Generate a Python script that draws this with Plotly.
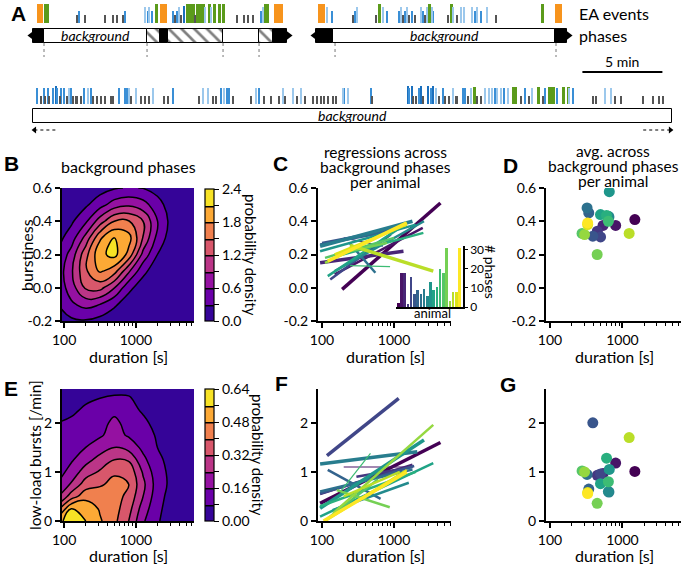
import plotly.graph_objects as go

W, H = 682, 564
FONT = "Lato"

# ---------------- A: EA events (time in minutes, 16 px per minute) ----------------
ROW1_T = [2.72, 2.88, 4.75, 4.88, 5.25, 6.56, 7.0, 7.31, 7.63, 7.75, 9.06, 9.19, 9.31, 9.44,
          10.75, 10.88, 11.0, 11.13, 11.25, 11.63, 11.81, 12.0, 12.13, 12.25, 12.44, 12.63, 12.81,
          13.0, 13.13, 13.31, 13.63, 13.88, 14.75, 15.19, 15.44, 15.81, 16.25, 16.38, 16.5, 16.63,
          19.88, 20.06, 20.22, 20.38, 20.69, 22.0, 22.13, 22.31, 23.44, 23.63, 23.88, 24.13, 24.88,
          25.0, 25.13, 25.25, 25.38, 25.5, 25.69, 25.88, 26.25, 26.38, 26.5, 26.63, 26.75, 26.94,
          27.06, 27.94, 28.13, 28.31, 28.56, 28.75, 28.94, 29.44, 29.63, 29.81, 30.06, 30.38, 30.94, 33.81]
ROW1_K = ("G G g b g g g g g b lb b lb b "
          "b g b lb g G G G g G G G lb "
          "G lb G G G g g g g b lb G G "
          "O O O lb b g b lb g G lb b b "
          "lb g b lb g b g lb b g lb G lb "
          "b g G lb g lb lb lb b lb b lb g G").split()
ROW1_BLOCK_T = [2.31, 9.69, 10.0, 11.44, 17.13, 34.69]
ROW1_BLOCK_D = [0.38, 0.19, 0.44, 0.13, 0.56, 0.44]
ROW1_BLOCK_K = ["O", "G", "O", "B", "O", "O"]

ROW2_T = [2.31, 2.5, 2.69, 2.81, 2.94, 3.06, 3.25, 3.44, 3.56, 3.69, 3.81, 3.94, 4.13, 4.25, 4.38,
          4.56, 4.69, 4.81, 5.0, 5.19, 5.44, 5.63, 5.81, 6.0, 6.25, 6.56, 6.88, 7.06, 7.38, 7.75,
          7.88, 8.0, 8.13, 8.44, 8.75, 9.0, 9.25, 9.5, 10.19, 10.44, 10.75, 12.38, 12.63, 12.94,
          13.25, 13.44, 13.75, 13.94, 14.13, 14.31, 14.56, 15.63, 15.94, 16.13, 16.44, 16.88, 17.38,
          17.63, 17.81, 18.25, 18.56, 18.75, 19.06, 19.5, 19.81, 20.0, 20.19, 20.44, 20.75, 20.94,
          21.38, 21.47, 21.69, 23.13, 23.22, 25.44, 25.56, 25.69, 25.81, 25.94, 26.13, 26.25, 26.38,
          26.69, 26.88, 27.0, 27.19, 27.38, 27.63, 27.81, 28.0, 28.25, 28.44, 28.56, 28.88, 29.06,
          29.19, 29.38, 29.56, 29.81, 30.0, 30.31, 30.5, 30.69, 30.88, 31.06, 31.25, 31.44, 31.69,
          32.5, 32.81, 33.0, 33.19, 33.56, 33.88, 34.06, 34.81, 35.13, 35.44, 35.56, 35.75, 37.0,
          37.19, 37.81, 38.13, 38.38, 38.75, 40.13, 40.81, 41.13, 41.38]
ROW2_K = ("b g b g b g b B b g b b g lb b "
          "g g g g b lb b g g g g g g b b "
          "b lb g lb g g g lb g g b g lb lb "
          "g g b lb b b g g lb b g g g "
          "lb g lb g lb g g g g g g g g "
          "lb b lb b g B b B g g b B g "
          "B b B lb g b g g lb g g b b "
          "g lb G g g lb lb lb b lb lb b lb "
          "g b g lb G g b b G G lb b g "
          "g lb lb g g g g g g").split()
ROW2_BLOCK_T = [32.0, 34.25]
ROW2_BLOCK_D = [0.31, 0.44]
ROW2_BLOCK_K = ["G", "G"]

# phases (minutes)
ROW1_PH_START = [2.06, 2.75, 9.19, 10.0, 10.5, 13.94, 16.19, 17.06, 19.75, 20.81, 34.69]
ROW1_PH_END = [2.75, 9.19, 10.0, 10.5, 13.94, 16.19, 17.06, 17.94, 20.81, 34.69, 35.44]
ROW1_PH_KIND = ["black", "background", "hatch", "black", "hatch", "plain", "hatch", "black",
                "black", "background", "black"]
ROW1_CUTS = [2.75, 9.19, 13.94, 16.19, 20.94, 34.75]
ROW2_PH_START = [2.06]
ROW2_PH_END = [42.0]
ROW2_PH_KIND = ["background"]

# ---------------- B / E: density maps ----------------
DUR_GRID = [79, 126, 200, 316, 501, 794, 1259, 1995, 3162, 5012, 7943]
BURST_GRID = [-0.2, -0.1, 0.0, 0.1, 0.2, 0.3, 0.4, 0.5, 0.6]
BURST_DENS = [
    [0.14, 0.24, 0.27, 0.19, 0.10, 0.04, 0.01, 0.00, 0.00, 0.00, 0.00],
    [0.27, 0.55, 0.70, 0.60, 0.35, 0.14, 0.04, 0.01, 0.00, 0.00, 0.00],
    [0.37, 0.75, 1.25, 1.30, 0.91, 0.38, 0.14, 0.04, 0.01, 0.00, 0.00],
    [0.38, 0.85, 1.45, 1.85, 1.62, 0.95, 0.38, 0.12, 0.03, 0.01, 0.00],
    [0.30, 0.72, 1.40, 2.02, 2.20, 1.70, 0.80, 0.30, 0.07, 0.01, 0.00],
    [0.18, 0.45, 1.00, 1.75, 2.10, 1.92, 1.18, 0.50, 0.14, 0.03, 0.00],
    [0.09, 0.25, 0.55, 1.05, 1.50, 1.52, 1.20, 0.62, 0.18, 0.04, 0.01],
    [0.04, 0.10, 0.25, 0.48, 0.74, 0.84, 0.72, 0.42, 0.14, 0.03, 0.00],
    [0.01, 0.03, 0.08, 0.17, 0.27, 0.32, 0.29, 0.18, 0.07, 0.02, 0.00],
]
RATE_GRID = [0.0, 0.25, 0.5, 0.75, 1.0, 1.25, 1.5, 1.75, 2.0, 2.25, 2.5, 2.75]
RATE_DENS = [
    [0.50, 0.64, 0.56, 0.49, 0.42, 0.32, 0.17, 0.09, 0.03, 0.00, 0.00],
    [0.36, 0.56, 0.54, 0.47, 0.43, 0.35, 0.20, 0.10, 0.04, 0.00, 0.00],
    [0.22, 0.36, 0.45, 0.44, 0.43, 0.38, 0.24, 0.11, 0.05, 0.00, 0.00],
    [0.16, 0.25, 0.36, 0.39, 0.42, 0.40, 0.26, 0.12, 0.06, 0.01, 0.00],
    [0.12, 0.19, 0.28, 0.33, 0.39, 0.38, 0.23, 0.11, 0.06, 0.01, 0.00],
    [0.10, 0.15, 0.21, 0.27, 0.32, 0.31, 0.18, 0.10, 0.05, 0.00, 0.00],
    [0.09, 0.12, 0.16, 0.20, 0.24, 0.21, 0.14, 0.08, 0.03, 0.00, 0.00],
    [0.085, 0.10, 0.13, 0.15, 0.19, 0.15, 0.12, 0.07, 0.02, 0.00, 0.00],
    [0.08, 0.09, 0.11, 0.13, 0.18, 0.13, 0.10, 0.05, 0.01, 0.00, 0.00],
    [0.06, 0.07, 0.09, 0.11, 0.14, 0.11, 0.07, 0.03, 0.00, 0.00, 0.00],
    [0.03, 0.05, 0.07, 0.08, 0.09, 0.09, 0.04, 0.01, 0.00, 0.00, 0.00],
    [0.01, 0.02, 0.03, 0.04, 0.05, 0.04, 0.02, 0.00, 0.00, 0.00, 0.00],
]

# ---------------- C / D / F / G: per animal ----------------
PHASE_COUNT = [2, 18, 18, 1.5, 16, 7, 9, 7, 9.5, 6, 13, 9, 10.5, 20, 18, 31, 3, 8, 8, 31]

C_X0 = [190, 150, 94, 200, 130, 100, 94, 245, 94, 150, 94, 120, 177, 245, 110, 150, 110, 245, 150, 120]
C_X1 = [4400, 2500, 1350, 700, 900, 1200, 900, 550, 1800, 2600, 2000, 1200, 2550, 880, 1000, 800, 1500, 3500, 1500, 1500]
C_Y0 = [-0.01, 0.08, 0.15, 0.30, 0.05, 0.27, 0.26, 0.265, 0.25, 0.10, 0.22, 0.07, 0.195, 0.133, 0.18, 0.20, 0.15, 0.255, 0.20, 0.16]
C_Y1 = [0.51, 0.36, 0.22, 0.25, 0.32, 0.36, 0.34, 0.09, 0.40, 0.40, 0.38, 0.36, 0.33, 0.127, 0.30, 0.27, 0.39, 0.10, 0.38, 0.39]

F_X0 = [94, 200, 94, 300, 117, 94, 120, 94, 94, 140, 94, 94, 94, 180, 120, 160, 143, 200, 110, 105]
F_X1 = [4400, 1800, 1800, 1800, 1160, 1900, 650, 1800, 2100, 1600, 2600, 3500, 2000, 470, 600, 870, 3500, 1200, 1500, 1500]
F_Y0 = [0.36, 1.10, 0.55, 0.90, 1.33, 0.56, 1.04, 0.60, 1.16, 0.22, 0.26, 0.09, 0.30, 0.60, 0.05, 0.63, 0.16, 0.50, 0.0, 0.0]
F_Y1 = [1.60, 1.10, 1.15, 1.10, 2.50, 1.12, 0.45, 1.05, 1.41, 0.78, 1.65, 1.18, 1.00, 1.38, 0.85, 0.28, 1.96, 1.00, 1.04, 1.00]

AVG_DUR = [1486, 807, 540, 450, 499, 390, 343, 325, 652, 640, 659, 498, 604, 640, 277, 448, 300, 1240, 331, 331]
AVG_BURST = [0.41, 0.375, 0.375, 0.34, 0.306, 0.31, 0.45, 0.48, 0.425, 0.43, 0.578, 0.44, 0.435, 0.40, 0.327, 0.20, 0.32, 0.327, 0.38, 0.39]
AVG_LOWLOAD = [1.01, 1.18, 0.97, 0.93, 0.96, 2.0, 0.65, 0.95, 0.59, 0.60, 1.05, 0.76, 1.28, 0.80, 1.02, 0.36, 1.0, 1.70, 0.58, 0.56]

# ---------------- styles ----------------
VIRIDIS20 = ['#440154', '#481467', '#482576', '#453781', '#404688', '#39558c', '#33638d', '#2d718e',
             '#287d8e', '#238a8d', '#1f968b', '#20a386', '#29af7f', '#3dbc74', '#56c667', '#75d054',
             '#95d840', '#bade28', '#dde318', '#fde725']
C_WIDTH = [3.5, 2.5, 3.5, 1.2, 2.5, 2.5, 2.5, 2.5, 3.5, 2.5, 2.5, 2.5, 2.5, 1.2, 2.5, 2.5, 2.5, 3.5, 2.5, 3.5]
F_WIDTH = [3.5, 1.2, 2.5, 2.5, 3.5, 2.5, 2.5, 2.5, 3.5, 2.5, 3.5, 2.5, 2.5, 1.2, 2.5, 2.5, 2.5, 2.5, 2.5, 3.5]
PLASMA8 = ['#350498', '#6a00a8', '#9511a1', '#bb3587', '#d8576b', '#f0804e', '#fca935', '#f7e225']
EV_COLOR = {"O": "#f7941d", "G": "#5b9b1b", "B": "#1a6fbd", "b": "#3a8fd6", "lb": "#9cc8ec", "g": "#555555"}
EV_WIDTH = {"O": 0.12, "G": 0.16, "B": 0.12, "b": 0.09, "lb": 0.09, "g": 0.08}
ROW1_H = {"O": 19, "G": 19, "B": 17, "b": 12, "lb": 16, "g": 8}
ROW2_H = {"O": 17, "G": 17, "B": 18, "b": 16, "lb": 16, "g": 8}


def xd(a, b):
    return [a / W, b / W]


def yd(top, bottom):
    return [1 - bottom / H, 1 - top / H]


def stepped(colors):
    n = len(colors)
    scale = []
    for i, c in enumerate(colors):
        scale += [[i / n, c], [(i + 1) / n, c]]
    return scale


fig = go.Figure()


def add_events(times, kinds, bt, bd, bk, base, heights):
    for k in EV_COLOR:
        xs, ws = [], []
        for t, kk in zip(times, kinds):
            if kk == k:
                xs.append(t + EV_WIDTH[k] / 2)
                ws.append(EV_WIDTH[k])
        for t, d, kk in zip(bt, bd, bk):
            if kk == k:
                xs.append(t + d / 2)
                ws.append(d)
        if xs:
            fig.add_trace(go.Bar(x=xs, y=[-heights[k]] * len(xs), base=[base] * len(xs), width=ws,
                                 marker=dict(color=EV_COLOR[k], line=dict(width=0)),
                                 xaxis="x", yaxis="y", hoverinfo="skip"))


def add_phases(starts, ends, kinds, yc):
    for s, e, k in zip(starts, ends, kinds):
        if k == "black":
            mk = dict(color="black", line=dict(color="black", width=1))
        elif k == "hatch":
            mk = dict(color="white", line=dict(color="black", width=1),
                      pattern=dict(shape="\\", fgcolor="black", bgcolor="white", size=9, solidity=0.3))
        else:
            mk = dict(color="white", line=dict(color="black", width=1))
        fig.add_trace(go.Bar(y=[yc], x=[e - s], base=[s], width=[14], orientation="h", marker=mk,
                             xaxis="x", yaxis="y", hoverinfo="skip"))


add_events(ROW1_T, ROW1_K, ROW1_BLOCK_T, ROW1_BLOCK_D, ROW1_BLOCK_K, 23, ROW1_H)
add_events(ROW2_T, ROW2_K, ROW2_BLOCK_T, ROW2_BLOCK_D, ROW2_BLOCK_K, 104, ROW2_H)
add_phases(ROW1_PH_START, ROW1_PH_END, ROW1_PH_KIND, 35.5)
add_phases(ROW2_PH_START, ROW2_PH_END, ROW2_PH_KIND, 115.5)

# pointed ends of the black transition caps in row 1
caps_x = [ROW1_PH_START[0], ROW1_PH_END[7], ROW1_PH_START[8], ROW1_PH_END[10]]
caps_sym = ["triangle-left", "triangle-right", "triangle-left", "triangle-right"]
fig.add_trace(go.Scatter(x=caps_x, y=[35.5] * 4, mode="markers",
                         marker=dict(symbol=caps_sym, size=11, color="black", line=dict(width=0)),
                         xaxis="x", yaxis="y", hoverinfo="skip"))

# dotted phase boundaries
cx, cy = [], []
for c in ROW1_CUTS:
    cx += [c, c, None]
    cy += [43, 57, None]
fig.add_trace(go.Scatter(x=cx, y=cy, mode="lines", line=dict(color="#777777", width=1, dash="dot"),
                         xaxis="x", yaxis="y", hoverinfo="skip"))

# row 2 end arrows (background continues)
s2, e2 = ROW2_PH_START[0], ROW2_PH_END[0]
for xa, xb, sym in [(s2 + 1.4, s2 + 0.1, "triangle-left"), (e2 - 1.8, e2 - 0.1, "triangle-right")]:
    fig.add_trace(go.Scatter(x=[xa, xb], y=[130, 130], mode="lines", line=dict(color="black", width=1.2, dash="dot"),
                             xaxis="x", yaxis="y", hoverinfo="skip"))
    fig.add_trace(go.Scatter(x=[xb], y=[130], mode="markers", marker=dict(symbol=sym, size=6, color="black"),
                             xaxis="x", yaxis="y", hoverinfo="skip"))

# 5 min scale bar
fig.add_trace(go.Scatter(x=[36.4, 41.4], y=[72, 72], mode="lines", line=dict(color="black", width=1.8),
                         xaxis="x", yaxis="y", hoverinfo="skip"))


# ---------------- density panels ----------------
def cbar(top, vals, labels):
    return dict(x=205 / W, xanchor="left", y=1 - top / H, yanchor="top", len=132, lenmode="pixels",
                thickness=9, thicknessmode="pixels", outlinewidth=1.2, outlinecolor="black",
                tickmode="array", tickvals=vals, ticktext=labels, ticks="outside", ticklen=5,
                tickwidth=1.2, tickcolor="black", tickfont=dict(size=14, color="black", family=FONT),
                xpad=0, ypad=0)


fig.add_trace(go.Contour(
    x=DUR_GRID, y=BURST_GRID, z=BURST_DENS, xaxis="x2", yaxis="y2",
    zmin=0, zmax=2.4, autocontour=False,
    contours=dict(start=0.3, end=2.1, size=0.3, coloring="fill"),
    line=dict(color="black", width=1.5, smoothing=1.3),
    colorscale=stepped(PLASMA8),
    colorbar=cbar(189, [0.3 * i for i in range(9)],
                  ["0.0", "", "0.6", "", "1.2", "", "1.8", "", "2.4"]),
    hoverinfo="skip"))

fig.add_trace(go.Contour(
    x=DUR_GRID, y=RATE_GRID, z=RATE_DENS, xaxis="x6", yaxis="y6",
    zmin=0, zmax=0.64, autocontour=False,
    contours=dict(start=0.08, end=0.56, size=0.08, coloring="fill"),
    line=dict(color="black", width=1.5, smoothing=1.3),
    colorscale=stepped(PLASMA8),
    colorbar=cbar(389, [0.08 * i for i in range(9)],
                  ["0.00", "", "0.16", "", "0.32", "", "0.48", "", "0.64"]),
    hoverinfo="skip"))

# ---------------- regression lines ----------------
for i in range(len(C_X0)):
    fig.add_trace(go.Scatter(x=[C_X0[i], C_X1[i]], y=[C_Y0[i], C_Y1[i]], mode="lines",
                             line=dict(color=VIRIDIS20[i], width=C_WIDTH[i]), xaxis="x3", yaxis="y3",
                             hoverinfo="skip"))
    fig.add_trace(go.Scatter(x=[F_X0[i], F_X1[i]], y=[F_Y0[i], F_Y1[i]], mode="lines",
                             line=dict(color=VIRIDIS20[i], width=F_WIDTH[i]), xaxis="x7", yaxis="y7",
                             hoverinfo="skip"))

fig.add_trace(go.Bar(x=list(range(len(PHASE_COUNT))), y=PHASE_COUNT, marker=dict(color=VIRIDIS20, line=dict(width=0)),
                     width=0.8, xaxis="x4", yaxis="y4", hoverinfo="skip"))

# ---------------- averages ----------------
fig.add_trace(go.Scatter(x=AVG_DUR, y=AVG_BURST, mode="markers", marker=dict(color=VIRIDIS20, size=11, line=dict(width=0)),
                         xaxis="x5", yaxis="y5", hoverinfo="skip"))
fig.add_trace(go.Scatter(x=AVG_DUR, y=AVG_LOWLOAD, mode="markers", marker=dict(color=VIRIDIS20, size=11, line=dict(width=0)),
                         xaxis="x8", yaxis="y8", hoverinfo="skip"))

# ---------------- axes ----------------
TICKFONT = dict(size=14, color="black", family=FONT)
LOG_MINOR = [200, 300, 400, 500, 600, 700, 800, 900, 2000, 3000, 4000, 5000, 6000]


def log_x(domain, rng, anchor):
    return dict(domain=domain, type="log", range=rng, anchor=anchor, showline=True, linecolor="black",
                linewidth=2, ticks="outside", ticklen=5, tickwidth=1.5, tickcolor="black",
                tickmode="array", tickvals=[100, 1000], ticktext=["100", "1000"],
                minor=dict(ticks="outside", ticklen=3, tickwidth=1, tickcolor="black", tickmode="array",
                           tickvals=LOG_MINOR, showgrid=False),
                showgrid=False, zeroline=False, tickfont=TICKFONT, automargin=False)


def lin_y(domain, rng, anchor, vals, labels):
    return dict(domain=domain, range=rng, anchor=anchor, showline=True, linecolor="black", linewidth=2,
                ticks="outside", ticklen=5, tickwidth=1.5, tickcolor="black", tickmode="array",
                tickvals=vals, ticktext=labels, showgrid=False, zeroline=False, tickfont=TICKFONT,
                automargin=False)


BURST_TICKS = [-0.2, 0.0, 0.2, 0.4, 0.6]
BURST_LABELS = ["-0.2", "0.0", "0.2", "0.4", "0.6"]
RATE_TICKS = [0, 1, 2]
RATE_LABELS = ["0", "1", "2"]

fig.update_layout(
    width=W, height=H, margin=dict(l=0, r=0, t=0, b=0, pad=0, autoexpand=False),
    paper_bgcolor="white", plot_bgcolor="rgba(0,0,0,0)",
    font=dict(family=FONT, color="black"),
    showlegend=False, barmode="overlay", bargap=0,
    xaxis=dict(domain=[0, 1], range=[0, W / 16], visible=False, anchor="y"),
    yaxis=dict(domain=yd(0, 140), range=[140, 0], visible=False, anchor="x"),
    xaxis2=log_x(xd(62, 194), [1.97, 3.81], "y2"),
    yaxis2=lin_y(yd(188, 321), [-0.2, 0.6], "x2", BURST_TICKS, BURST_LABELS),
    xaxis3=log_x(xd(318, 451), [1.944, 3.79], "y3"),
    yaxis3=lin_y(yd(188, 321), [-0.2, 0.6], "x3", BURST_TICKS, BURST_LABELS),
    xaxis4=dict(domain=xd(396, 463), range=[-0.7, 20.1], anchor="y4", showline=True, linecolor="black",
                linewidth=1.5, ticks="", showticklabels=False, showgrid=False, zeroline=False),
    yaxis4=dict(domain=yd(246, 307), range=[0, 32], anchor="x4", side="right", showline=True,
                linecolor="black", linewidth=1.5, ticks="outside", ticklen=3, tickcolor="black",
                tickvals=[0, 10, 20, 30], showgrid=False, zeroline=False, automargin=False,
                tickfont=dict(size=12, color="black", family=FONT)),
    xaxis5=log_x(xd(546, 681), [1.944, 3.81], "y5"),
    yaxis5=lin_y(yd(188, 321), [-0.2, 0.6], "x5", BURST_TICKS, BURST_LABELS),
    xaxis6=log_x(xd(62, 194), [1.97, 3.81], "y6"),
    yaxis6=lin_y(yd(389, 521), [0, 2.69], "x6", RATE_TICKS, RATE_LABELS),
    xaxis7=log_x(xd(318, 451), [1.944, 3.79], "y7"),
    yaxis7=lin_y(yd(389, 521), [0, 2.69], "x7", RATE_TICKS, RATE_LABELS),
    xaxis8=log_x(xd(546, 681), [1.944, 3.81], "y8"),
    yaxis8=lin_y(yd(389, 521), [0, 2.69], "x8", RATE_TICKS, RATE_LABELS),
)

ann = []


def label(text, x, y, size=15, family=FONT, xanchor="center", **kw):
    ann.append(dict(text=text, x=x / W, y=1 - y / H, xref="paper", yref="paper", showarrow=False,
                    xanchor=xanchor, yanchor="middle",
                    font=dict(size=size, color="black", family=family), **kw))


LETTER = "Liberation Sans"
for t, x, y in [("A", 18, 13), ("B", 11, 163), ("C", 280, 163), ("D", 510, 165),
                ("E", 11, 388), ("F", 281, 383), ("G", 508, 384)]:
    label("<b>%s</b>" % t, x, y, size=21, family=LETTER)

label("EA events", 577, 14, size=16, xanchor="left")
label("phases", 577, 35, size=16, xanchor="left")
label("5 min", 622, 61, size=14)
for s, e, k, yc in list(zip(ROW1_PH_START, ROW1_PH_END, ROW1_PH_KIND, [35.5] * 11)) + \
        list(zip(ROW2_PH_START, ROW2_PH_END, ROW2_PH_KIND, [115.5])):
    if k == "background":
        label("<i>background</i>", (s + e) / 2 * 16, yc, size=14)

label("background phases", 128, 166, size=16)
for txt, y in [("regressions across", 152), ("background phases", 167), ("per animal", 182)]:
    label(txt, 385, y, size=15.5)
for txt, y in [("avg. across", 151), ("background phases", 166), ("per animal", 181)]:
    label(txt, 613, y, size=15.5)

for cx_ in [128, 385, 614]:
    label("duration [s]", cx_, 356, size=16)
    label("duration [s]", cx_, 555, size=16)

label("burstiness", 26, 255, size=16, textangle=-90)
label("low-load bursts [/min]", 35, 455, size=15.5, textangle=-90)
label("probability density", 251, 255, size=15, textangle=90)
label("probability density", 258, 455, size=15, textangle=90)
label("# phases", 491, 272, size=14, textangle=90)
label("animal", 432, 313, size=13)

fig.update_layout(annotations=ann)
fig.write_html("out.html", config={"displayModeBar": False},
               post_script="document.body.style.margin='0px';")
